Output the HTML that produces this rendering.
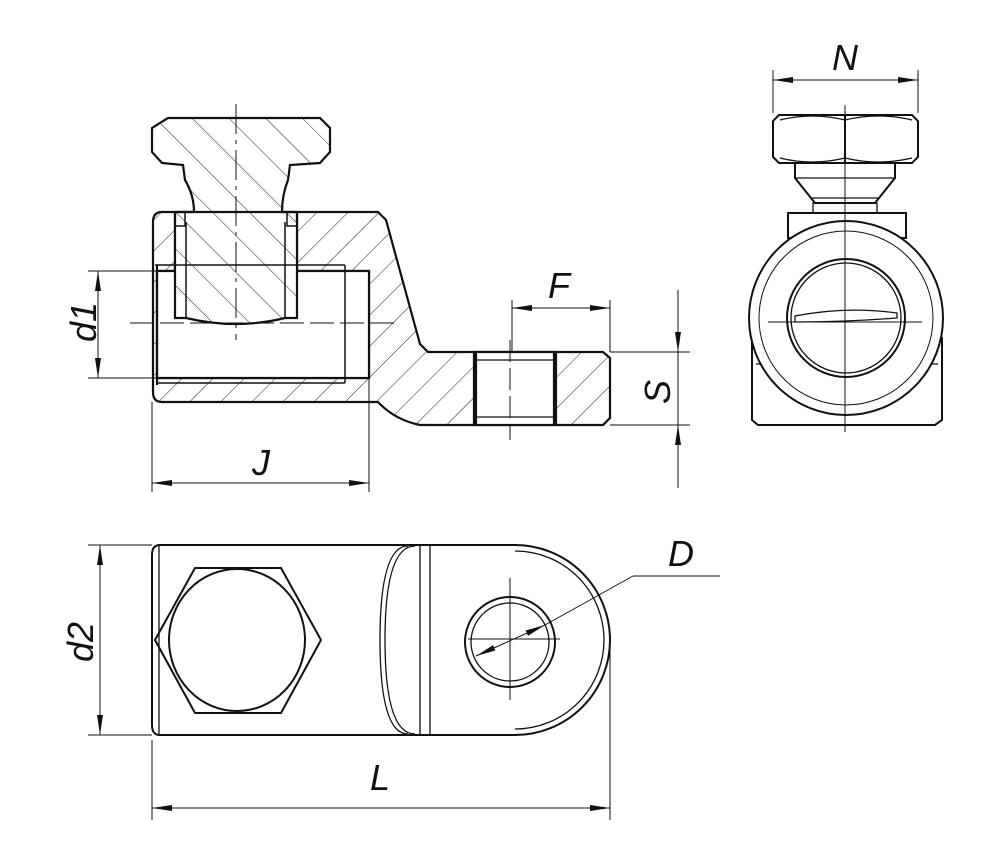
<!DOCTYPE html>
<html><head><meta charset="utf-8"><style>
html,body{margin:0;padding:0;background:#fff;}
svg{display:block;}
text{font-family:"Liberation Sans",sans-serif;font-style:italic;font-size:36px;fill:#111;}
</style></head><body>
<svg width="1000" height="864" viewBox="0 0 1000 864" xmlns="http://www.w3.org/2000/svg">
<defs>
<pattern id="h1" patternUnits="userSpaceOnUse" width="22" height="22" patternTransform="rotate(45)">
<line x1="0" y1="0" x2="0" y2="22" stroke="#222" stroke-width="1"/></pattern>
<pattern id="h2" patternUnits="userSpaceOnUse" width="26" height="26" patternTransform="rotate(-45)">
<line x1="0" y1="0" x2="0" y2="26" stroke="#222" stroke-width="1"/></pattern>
<marker id="ar" viewBox="0 0 20 8" refX="20" refY="4" markerWidth="20" markerHeight="8" markerUnits="userSpaceOnUse" orient="auto-start-reverse">
<path d="M0,1 L20,4 L0,7 Z" fill="#111"/></marker>
</defs>
<g fill="none" stroke="#111" stroke-width="2.2">
<path fill="url(#h1)" fill-rule="evenodd" d="M162,212 L378,212 L386,220 L420,344 L428,352 L603,352 L610,358 L610,418 L603,425 L420,425 Q395,420 378,402 L162,402 Q153,402 153,392 L153,222 Q153,212 162,212 Z
M157,271 L369,271 L369,378 L157,378 Z M175,212 L297,212 L297,271 L175,271 Z M474,352 L556,352 L556,425 L474,425 Z"/>
<rect x="157" y="271" width="212" height="107" fill="#fff"/>
<rect x="175" y="222" width="122" height="60" fill="#fff" stroke="none"/>
<line x1="155" y1="265" x2="345" y2="265" stroke-width="1.5"/>
<line x1="157" y1="383" x2="345" y2="383" stroke-width="1.5"/>
<line x1="345" y1="265" x2="345" y2="383" stroke-width="1.5"/>
<line x1="157" y1="265" x2="157" y2="385"/>
<path fill="url(#h2)" d="M168,118 L320,118 L330,128 L330,152 L320,163 L290,165 L288,180 Q282,195 282,212 L297,212 L297,318 L285,318 Q236,330 186,318 L175,318 L175,212 L194,212 Q194,195 185,180 L183,165 L162,163 L152,152 L152,128 Z"/>
<line x1="186" y1="222" x2="186" y2="318" stroke-width="1.5"/>
<line x1="285" y1="222" x2="285" y2="318" stroke-width="1.5"/>
<rect x="175" y="212" width="10" height="14" stroke-width="1.5"/>
<rect x="287" y="212" width="10" height="14" stroke-width="1.5"/>
<rect x="476" y="352" width="78" height="73" fill="#fff"/>
<line x1="476" y1="360" x2="554" y2="360" stroke-width="1.3"/>
<line x1="476" y1="417" x2="554" y2="417" stroke-width="1.3"/>
</g>
<g stroke="#111" stroke-width="1" fill="none">
<line x1="236" y1="104" x2="236" y2="340" stroke-dasharray="30,6,4,6"/>
<line x1="130" y1="323" x2="395" y2="323" stroke-dasharray="24,6"/>
<line x1="510" y1="340" x2="510" y2="440" stroke-dasharray="22,6"/>
<line x1="88" y1="271" x2="157" y2="271"/><line x1="88" y1="378" x2="157" y2="378"/>
<line x1="98" y1="271" x2="98" y2="378" marker-start="url(#ar)" marker-end="url(#ar)"/>
<line x1="152" y1="402" x2="152" y2="492"/><line x1="369" y1="378" x2="369" y2="492"/>
<line x1="152" y1="483" x2="369" y2="483" marker-start="url(#ar)" marker-end="url(#ar)"/>
<line x1="512" y1="300" x2="512" y2="352"/><line x1="610" y1="300" x2="610" y2="352"/>
<line x1="512" y1="308" x2="610" y2="308" marker-start="url(#ar)" marker-end="url(#ar)"/>
<line x1="610" y1="352" x2="690" y2="352"/><line x1="610" y1="425" x2="690" y2="425"/>
<line x1="678" y1="290" x2="678" y2="352" marker-end="url(#ar)"/>
<line x1="678" y1="488" x2="678" y2="425" marker-end="url(#ar)"/>
<line x1="678" y1="352" x2="678" y2="425"/>
</g>
<text x="0" y="0" transform="translate(96,342) rotate(-90)">d1</text>
<text x="252" y="475">J</text>
<text x="548" y="298">F</text>
<text x="0" y="0" transform="translate(670,404) rotate(-90)">S</text>

<g fill="none" stroke="#111" stroke-width="2">
<path d="M779,115 L912,115 L918,121 L918,157 L912,163 L779,163 L773,157 L773,121 Z"/>
<line x1="845" y1="115" x2="845" y2="163"/>
<path d="M780,120 Q812,112 845,120 Q878,112 912,120" stroke-width="1.3"/>
<path d="M780,158 Q812,166 845,158 Q878,166 912,158" stroke-width="1.3"/>
<path d="M795,163 L795,178 L815,203 L875,203 L895,178 L895,163"/>
<line x1="795" y1="178" x2="895" y2="178" stroke-width="1.3"/>
<line x1="812" y1="198" x2="878" y2="198" stroke-width="1.3"/>
<rect x="813" y="203" width="64" height="10" stroke-width="1.3"/>
<rect x="788" y="213" width="118" height="25"/>
<path d="M758,330 L752,338 L752,420 L758,425 L935,425 L942,420 L942,338 L936,330"/>
<line x1="756" y1="364" x2="938" y2="364" stroke-width="1.3"/>
<circle cx="846" cy="318" r="97" fill="#fff"/>
<circle cx="846" cy="318" r="87" stroke-width="1"/>
<circle cx="846" cy="318" r="59"/>
<circle cx="846" cy="318" r="55" stroke-width="1.3"/>
<path d="M795,316 Q846,306 897,313 L897,318 Q846,322 795,322 Z" stroke-width="1.3"/>
</g>
<g stroke="#111" stroke-width="1" fill="none">
<line x1="845" y1="105" x2="845" y2="432"/>
<line x1="768" y1="322" x2="922" y2="322"/>
<line x1="773" y1="70" x2="773" y2="113"/><line x1="918" y1="70" x2="918" y2="113"/>
<line x1="773" y1="80" x2="918" y2="80" marker-start="url(#ar)" marker-end="url(#ar)"/>
</g>
<text x="832" y="70">N</text>

<g fill="none" stroke="#111" stroke-width="2">
<path d="M160,545 L515,545 A95,95 0 0 1 515,735 L160,735 Q152,735 152,725 L152,555 Q152,545 160,545 Z"/>
<line x1="159" y1="546" x2="159" y2="734" stroke-width="1.3"/>
<path d="M515,551 A89,89 0 0 1 515,729" stroke-width="1.3"/>
<path d="M415,546 Q385,546 385,640 Q385,734 415,734" stroke-width="1.3"/>
<path d="M408,546 Q380,546 380,640 Q380,734 408,734" stroke-width="1.3"/>
<line x1="420" y1="546" x2="420" y2="734" stroke-width="1.3"/>
<line x1="430" y1="546" x2="430" y2="734" stroke-width="1.3"/>
<path d="M195,568 L281,568 L321,640 L281,713 L195,713 L155,640 Z"/>
<ellipse cx="237" cy="640" rx="68" ry="71"/>
<circle cx="510" cy="642" r="45"/>
<circle cx="510" cy="642" r="39" stroke-width="1.3"/>
</g>
<g stroke="#111" stroke-width="1" fill="none">
<line x1="468" y1="639" x2="560" y2="639"/>
<line x1="510" y1="578" x2="510" y2="700"/>
<line x1="476" y1="656" x2="545" y2="625" marker-start="url(#ar)" marker-end="url(#ar)"/>
<line x1="545" y1="625" x2="633" y2="576"/><line x1="633" y1="576" x2="720" y2="576"/>
<line x1="88" y1="545" x2="152" y2="545"/><line x1="88" y1="735" x2="152" y2="735"/>
<line x1="100" y1="545" x2="100" y2="735" marker-start="url(#ar)" marker-end="url(#ar)"/>
<line x1="152" y1="740" x2="152" y2="820"/><line x1="610" y1="650" x2="610" y2="820"/>
<line x1="152" y1="808" x2="610" y2="808" marker-start="url(#ar)" marker-end="url(#ar)"/>
</g>
<text x="0" y="0" transform="translate(93,662) rotate(-90)">d2</text>
<text x="668" y="566">D</text>
<text x="370" y="790">L</text>
</svg>
</body></html>
